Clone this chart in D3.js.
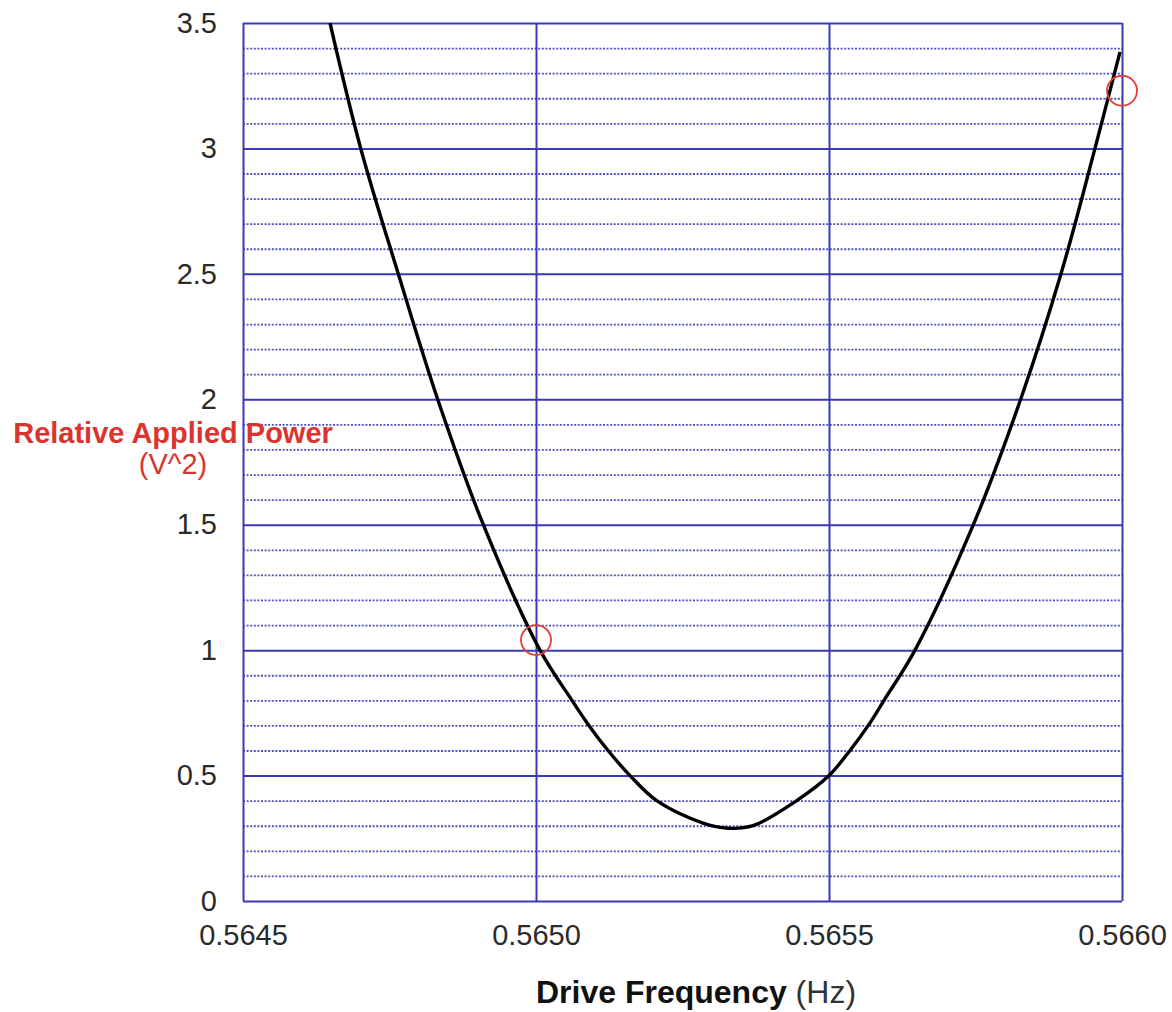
<!DOCTYPE html>
<html>
<head>
<meta charset="utf-8">
<script src="https://cdn.jsdelivr.net/npm/d3@7"></script>
<style>
  body { margin: 0; background: #fff; }
  text { font-family: "Liberation Sans", Arial, Helvetica, sans-serif; }
</style>
</head>
<body>
<div id="chart"></div>
<script>
// Data
//=================================
var freqValues = [0.5646485, 0.5647009, 0.5647650, 0.5648322, 0.5649101, 0.5650068,
    0.5650614, 0.5650902, 0.5651229, 0.5651604, 0.5652060, 0.5652850, 0.5653277,
    0.5653703, 0.5654449, 0.5655000, 0.5655358, 0.5655671, 0.5655939, 0.5656468,
    0.5657463, 0.5658271, 0.5658959, 0.5659539, 0.5659966];
var powerValues = [3.50, 3.00, 2.50, 2.00, 1.50, 1.00,
    0.80, 0.70, 0.60, 0.50, 0.40, 0.31, 0.29,
    0.30, 0.40, 0.50, 0.60, 0.70, 0.80, 1.00,
    1.50, 2.00, 2.50, 3.00, 3.385];

// circled points
var markedFreq = [0.5650, 0.5660];
var markedPower = [1.04, 3.23];

var xTickValues = [0.5645, 0.5650, 0.5655, 0.5660];
var yTickValues = [0, 0.5, 1, 1.5, 2, 2.5, 3, 3.5];

//Canvas
//=================================
var svgWidth = 1172;
var svgHeight = 1012;

var margin = {
    top: 23,
    right: 50,
    bottom: 111,
    left: 243
};

var width = svgWidth - margin.left - margin.right;
var height = svgHeight - margin.top - margin.bottom;

var svg = d3.select("#chart")
    .append("svg")
    .attr("width", svgWidth)
    .attr("height", svgHeight);

var chartGroup = svg.append("g")
    .attr("transform", `translate(${margin.left}, ${margin.top})`);

//Scales
// ==============================
var xLinearScale = d3.scaleLinear()
    .domain([0.5645, 0.5660])
    .range([0, width]);

var yLinearScale = d3.scaleLinear()
    .domain([0, 3.5])
    .range([height, 0]);

var majorColor = "#3a3ab5";

//Minor dotted grid every 0.1
var minorTicks = yLinearScale.ticks(35).filter(function(d) {
    return Math.abs(d * 2 - Math.round(d * 2)) > 1e-6;
});

chartGroup.append("g")
    .attr("class", "minor-grid")
    .call(d3.axisLeft(yLinearScale).tickValues(minorTicks).tickSize(-width).tickFormat(""))
    .call(g => g.select(".domain").remove())
    .selectAll("line")
    .attr("stroke", "#4f4fbf")
    .attr("stroke-width", 1.8)
    .attr("stroke-dasharray", "2,1.6");

//Major grid lines
chartGroup.append("g")
    .call(d3.axisLeft(yLinearScale).tickValues(yTickValues).tickSize(-width).tickFormat(""))
    .call(g => g.select(".domain").remove())
    .selectAll("line")
    .attr("stroke", majorColor)
    .attr("stroke-width", 2);

chartGroup.append("g")
    .attr("transform", `translate(0, ${height})`)
    .call(d3.axisBottom(xLinearScale).tickValues(xTickValues).tickSize(-height).tickFormat(""))
    .call(g => g.select(".domain").remove())
    .selectAll("line")
    .attr("stroke", majorColor)
    .attr("stroke-width", 2);

//Tick labels
// ==============================
var leftAxis = chartGroup.append("g")
    .call(d3.axisLeft(yLinearScale).tickValues(yTickValues).tickSize(0).tickPadding(26)
        .tickFormat(d => d3.format("")(d)));
leftAxis.select(".domain").remove();
leftAxis.selectAll("text")
    .attr("fill", "#2a2a2a")
    .style("font-size", "29px");

var bottomAxis = chartGroup.append("g")
    .attr("transform", `translate(0, ${height})`)
    .call(d3.axisBottom(xLinearScale).tickValues(xTickValues).tickSize(0).tickPadding(23)
        .tickFormat(d3.format(".4f")));
bottomAxis.select(".domain").remove();
bottomAxis.selectAll("text")
    .attr("fill", "#2a2a2a")
    .style("font-size", "29px");

//Curve
// ==============================
svg.append("defs").append("clipPath")
    .attr("id", "plot-clip")
    .append("rect")
    .attr("x", 0)
    .attr("y", 0)
    .attr("width", width)
    .attr("height", height);

var curveData = freqValues.map(function(f, i) {
    return { freq: f, power: powerValues[i] };
});

var line = d3.line()
    .x(d => xLinearScale(d.freq))
    .y(d => yLinearScale(d.power))
    .curve(d3.curveCatmullRom);

chartGroup.append("path")
    .datum(curveData)
    .attr("clip-path", "url(#plot-clip)")
    .attr("d", line)
    .attr("fill", "none")
    .attr("stroke", "#000")
    .attr("stroke-width", 3.4)
    .attr("stroke-linejoin", "round");

//Red circles
var markData = markedFreq.map(function(f, i) {
    return { freq: f, power: markedPower[i] };
});

chartGroup.selectAll("circle.mark")
    .data(markData)
    .enter()
    .append("circle")
    .attr("class", "mark")
    .attr("cx", d => xLinearScale(d.freq))
    .attr("cy", d => yLinearScale(d.power))
    .attr("r", 15)
    .attr("fill", "none")
    .attr("stroke", "#e0413c")
    .attr("stroke-width", 1.8);

//Axis titles
// ==============================
var yTitle = svg.append("text")
    .attr("text-anchor", "middle")
    .attr("fill", "#d9352e")
    .style("font-size", "29px");
yTitle.append("tspan")
    .attr("x", 173)
    .attr("y", 443)
    .style("font-weight", "bold")
    .text("Relative Applied Power");
yTitle.append("tspan")
    .attr("x", 173)
    .attr("y", 474)
    .text("(V^2)");

var xTitle = svg.append("text")
    .attr("x", 696)
    .attr("y", 1003)
    .attr("text-anchor", "middle")
    .attr("fill", "#111")
    .style("font-size", "32px");
xTitle.append("tspan")
    .style("font-weight", "bold")
    .text("Drive Frequency ");
xTitle.append("tspan")
    .attr("fill", "#333")
    .text("(Hz)");
</script>
</body>
</html>
